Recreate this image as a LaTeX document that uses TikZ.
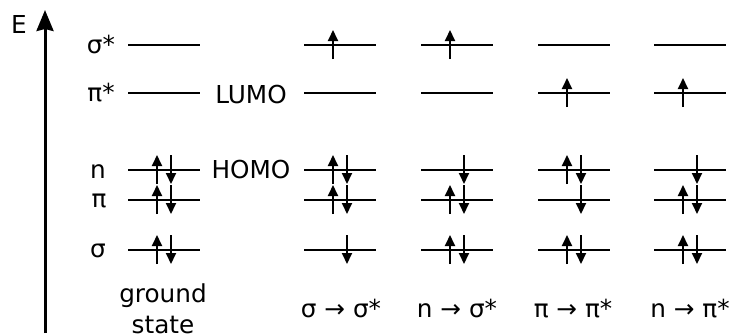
\documentclass[tikz,border=0pt]{standalone}
\usepackage{fontspec}
\setmainfont{DejaVu Sans}
\usetikzlibrary{arrows.meta}
\begin{document}
\begin{tikzpicture}[x=1bp,y=-1bp,
  lvl/.style={line width=1.9bp},
  el/.style={line width=1.9bp,-{Triangle[length=11bp,width=10bp]}},
  lab/.style={inner sep=0pt,anchor=base,font=\fontsize{24.8pt}{30pt}\selectfont}]
\useasboundingbox (0,0) rectangle (730,333);
\def\w{72}
\def\dy{14}
% energy axis
\coordinate (E0) at (45,333);
\coordinate (E1) at (45,10);
\draw[line width=3bp,-{Stealth[length=21bp,width=17bp,inset=2bp]}] (E0)--(E1);
\node[lab] (E) at (19,33) {E};
% orbital names
\foreach \y/\t/\x/\b in {45/σ*/101/53,93/π*/101/101,170/n/98/178,200/π/99/207,250/σ/98/257}
  \node[lab] (name\y) at (\x,\b) {\t};
\node[lab] (lumo) at (251,103) {LUMO};
\node[lab] (homo) at (251,178) {HOMO};
% levels
\foreach \c in {128,304,421,538,654}
  \foreach \y in {45,93,170,200,250}
    \draw[lvl] (\c,\y)--++(\w,0);
% electrons, spin up
\foreach \c/\y in {128/170,128/200,128/250,
  304/45,304/170,304/200,
  421/45,421/200,421/250,
  538/93,538/170,538/250,
  654/93,654/200,654/250}
  \draw[el] (\c+29,\y+\dy)--(\c+29,\y-\dy-1);
% electrons, spin down
\foreach \c in {128,304,421,538,654}
  \foreach \y in {170,200,250}
    \draw[el] (\c+43,\y-\dy-1)--(\c+43,\y+\dy);
% captions
\node[lab] (gs1) at (163,302) {ground};
\node[lab] (gs2) at (163,333) {state};
\foreach \x/\t [count=\i] in {341/σ → σ*,457/n → σ*,573/π → π*,690/n → π*}
  \node[lab] (tr\i) at (\x,317) {\t};
\end{tikzpicture}
\end{document}
